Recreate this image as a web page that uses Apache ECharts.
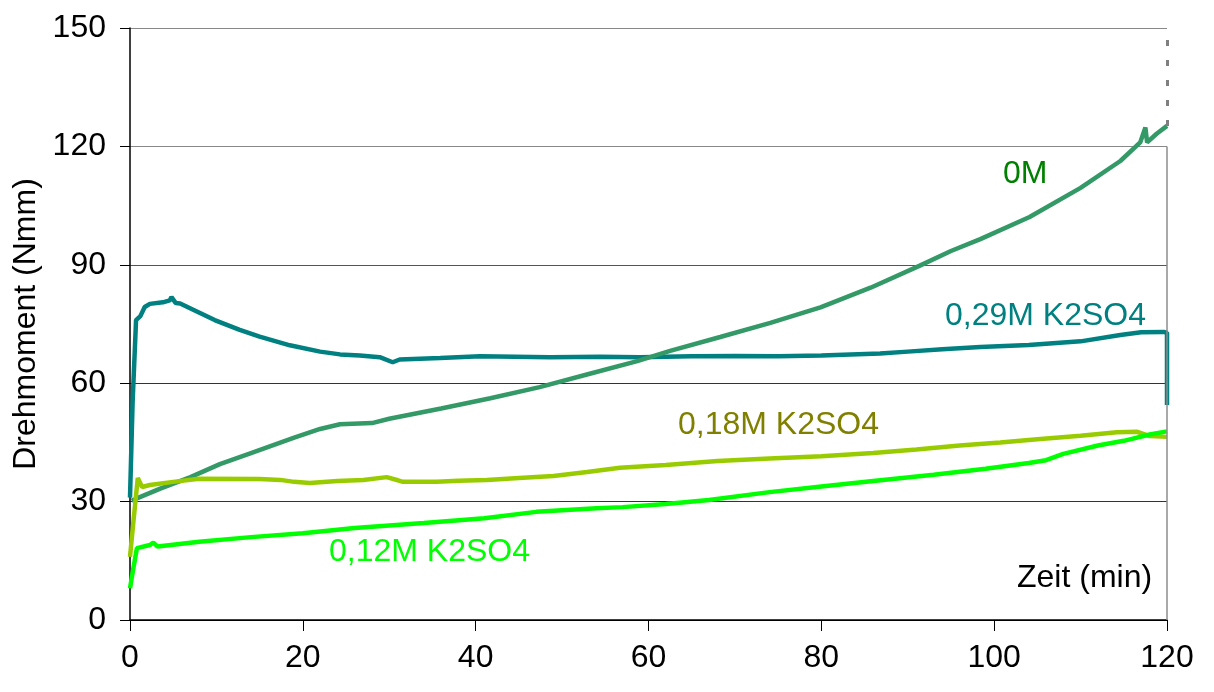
<!DOCTYPE html>
<html>
<head>
<meta charset="utf-8">
<script src="https://cdn.jsdelivr.net/npm/echarts@6/dist/echarts.min.js"></script>
<style>
  html, body { margin: 0; padding: 0; background: #fff; }
  #chart { width: 1214px; height: 692px; }
</style>
</head>
<body>
<div id="chart"></div>
<script>
// Zeit (min) und Drehmoment (Nmm) je Messreihe
const time0M = [0.2, 1, 3.5, 7, 10.4, 14, 19, 22, 24.3, 28, 30, 36, 41.7, 47.4, 53.2, 58.7, 62.5, 68.3, 74.1, 79.9, 85.7, 91.4, 95, 98.4, 104.1, 110, 114.6, 116.9, 117.5, 117.7, 118.8, 120];
const torque0M = [30.2, 31, 33.3, 36.2, 39.5, 42.3, 46.2, 48.4, 49.6, 49.9, 51, 53.6, 56.2, 59, 62.4, 65.6, 68.2, 71.7, 75.3, 79.2, 84.2, 89.8, 93.5, 96.5, 102.1, 109.5, 116.3, 121, 124.8, 121, 123.2, 125.2];

const time029 = [0, 0.3, 0.7, 1.2, 1.7, 2.3, 3.8, 4.6, 4.8, 5.3, 5.8, 8.1, 9.8, 12.7, 15, 18.5, 22, 24.3, 26.6, 28.9, 30.4, 31.2, 35.9, 40.5, 48.6, 54.4, 59, 65, 70, 75, 80, 86.8, 90, 94, 98.4, 104, 110, 114.6, 117, 119.6, 120, 120];
const torque029 = [31, 55, 76, 77, 79.3, 80.1, 80.5, 81, 81.8, 80.3, 80.2, 77.8, 76, 73.5, 71.8, 69.6, 68, 67.3, 67, 66.6, 65.3, 66, 66.4, 66.8, 66.6, 66.7, 66.6, 66.8, 66.9, 66.8, 67, 67.5, 68, 68.6, 69.2, 69.7, 70.6, 72.2, 72.9, 73, 72.8, 54.5];

const time018 = [0, 0.4, 0.9, 1.4, 2.3, 5, 8, 15, 17.4, 19, 20.8, 24, 27, 29.7, 31, 31.6, 35.5, 38, 41.3, 45, 49, 52.9, 56.7, 62, 68, 74, 80, 86, 91, 96, 100.7, 105, 110, 114.2, 116.5, 118, 120];
const torque018 = [16, 25, 36, 33.7, 34.2, 35, 35.8, 35.7, 35.5, 35, 34.7, 35.2, 35.5, 36.2, 35.4, 35, 35, 35.3, 35.5, 36, 36.5, 37.5, 38.6, 39.3, 40.3, 40.9, 41.5, 42.3, 43.2, 44.2, 45, 45.8, 46.7, 47.6, 47.7, 46.6, 46.4];

const time012 = [0, 0.3, 0.8, 2.3, 2.7, 3.2, 8, 14, 20, 26, 34, 41, 47, 54, 57, 62, 67, 74, 80, 86, 93, 99, 104, 106, 108, 112, 115, 118, 120];
const torque012 = [8, 12, 18.2, 19, 19.6, 18.6, 19.8, 21, 22, 23.3, 24.6, 25.8, 27.4, 28.3, 28.6, 29.4, 30.4, 32.4, 33.8, 35.2, 36.8, 38.3, 39.8, 40.5, 42.1, 44.2, 45.4, 47, 47.8];

const xTicks = { min: 0, max: 120, interval: 20 };
const yTicks = { min: 0, max: 150, interval: 30 };

const pairs = (xs, ys) => xs.map((x, i) => [x, ys[i]]);
const FONT = 'Arial, "Liberation Sans", sans-serif';

const chart = echarts.init(document.getElementById('chart'));

function lineSeries(name, xs, ys, color) {
  return {
    type: 'line',
    name: name,
    data: pairs(xs, ys),
    showSymbol: false,
    symbol: 'none',
    lineStyle: { color: color, width: 4.5 },
    z: 3,
  };
}

const s0M = lineSeries('0M', time0M, torque0M, '#339966');
// rechter Rand: durchgezogen bis 120, gestrichelt bis zum Ende der 0M-Kurve
s0M.markLine = {
  silent: true,
  symbol: 'none',
  label: { show: false },
  data: [
    [
      { coord: [xTicks.max, yTicks.min], lineStyle: { color: '#8c8c8c', width: 1.5, type: 'solid' } },
      { coord: [xTicks.max, 120] },
    ],
    [
      { coord: [xTicks.max, torque0M[torque0M.length - 1]], lineStyle: { color: '#7f7f7f', width: 3, type: [6, 14] } },
      { coord: [xTicks.max, yTicks.max] },
    ],
  ],
};

const option = {
  animation: false,
  backgroundColor: '#fff',
  grid: { left: 130, right: 47, top: 28, bottom: 72 },
  xAxis: {
    type: 'value',
    min: xTicks.min,
    max: xTicks.max,
    interval: xTicks.interval,
    axisLine: { show: true, onZero: false, lineStyle: { color: '#000', width: 1.5 } },
    axisTick: { show: true, inside: false, length: 11, lineStyle: { color: '#000', width: 1 } },
    axisLabel: { color: '#000', fontSize: 32, fontFamily: FONT, margin: 22 },
    splitLine: { show: false },
  },
  yAxis: {
    type: 'value',
    min: yTicks.min,
    max: yTicks.max,
    interval: yTicks.interval,
    name: 'Drehmoment (Nmm)',
    nameLocation: 'middle',
    nameGap: 88,
    nameTextStyle: { color: '#000', fontSize: 32, fontFamily: FONT },
    axisLine: { show: true, lineStyle: { color: '#000', width: 1.5 } },
    axisTick: { show: true, inside: false, length: 10, lineStyle: { color: '#000', width: 1 } },
    axisLabel: { color: '#000', fontSize: 32, fontFamily: FONT, margin: 24 },
    splitLine: {
      show: true,
      lineStyle: { color: ['#000', '#333', '#333', '#555', '#888', '#888'], width: 1.2 },
    },
  },
  series: [
    lineSeries('0,29M K2SO4', time029, torque029, '#008080'),
    s0M,
    lineSeries('0,18M K2SO4', time018, torque018, '#99CC00'),
    lineSeries('0,12M K2SO4', time012, torque012, '#00FF00'),
  ],
  graphic: [
    { type: 'text', left: 1003, top: 158, style: { text: '0M', fill: '#008000', font: '32px ' + FONT } },
    { type: 'text', left: 945, top: 300, style: { text: '0,29M K2SO4', fill: '#008080', font: '32px ' + FONT } },
    { type: 'text', left: 678, top: 409, style: { text: '0,18M K2SO4', fill: '#808000', font: '32px ' + FONT } },
    { type: 'text', left: 329, top: 536, style: { text: '0,12M K2SO4', fill: '#00FF00', font: '32px ' + FONT } },
    { type: 'text', left: 1017, top: 562, style: { text: 'Zeit (min)', fill: '#000', font: '32px ' + FONT } },
  ],
};

chart.setOption(option);
</script>
</body>
</html>
